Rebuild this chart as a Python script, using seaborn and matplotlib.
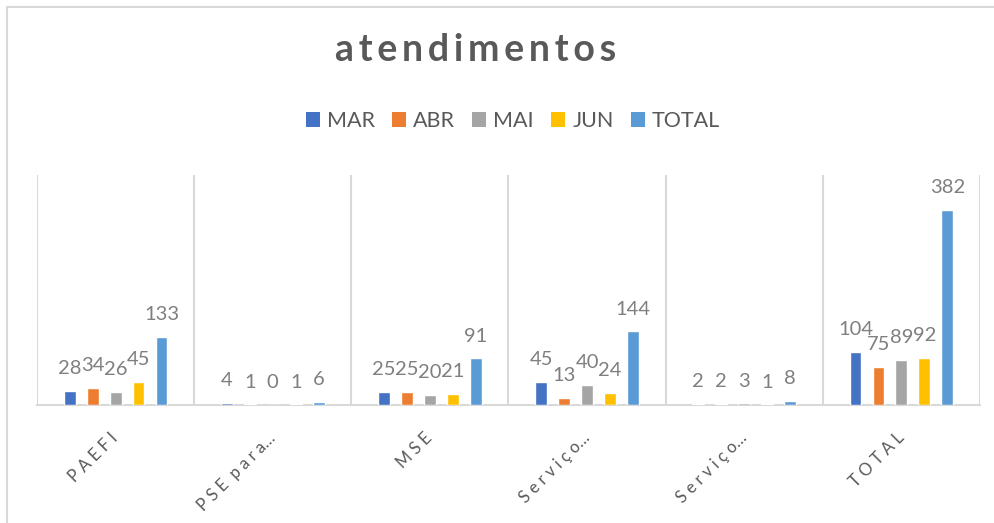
import matplotlib
matplotlib.use("Agg")
import matplotlib.pyplot as plt
import seaborn as sns
import pandas as pd
from matplotlib.patches import Rectangle, Patch

categories = ["PAEFI", "PSE para…", "MSE", "Serviço…", "Serviço… ", "TOTAL"]
tick_labels = ["P A E F I", "P S E  p a r a…", "M S E",
               "S e r v i ç o…", "S e r v i ç o…", "T O T A L"]
series = ["MAR", "ABR", "MAI", "JUN", "TOTAL"]
mar = [28, 4, 25, 45, 2, 104]
abr = [34, 1, 25, 13, 2, 75]
mai = [26, 0, 20, 40, 3, 89]
jun = [45, 1, 21, 24, 1, 92]
total = [133, 6, 91, 144, 8, 382]
colors = ["#4472C4", "#ED7D31", "#A5A5A5", "#FFC000", "#5B9BD5"]
title = "atendimentos"

rows = []
for name, vals in zip(series, [mar, abr, mai, jun, total]):
    for c, v in zip(categories, vals):
        rows.append({"categoria": c, "mes": name, "valor": v})
df = pd.DataFrame(rows)

sns.set_style("white")
plt.rcParams["font.family"] = ["Lato", "DejaVu Sans"]

fig = plt.figure(figsize=(9.95, 5.23), dpi=100)
ax = fig.add_axes([37/995, 1-405/523, (980-37)/995, (405-175)/523])

sns.barplot(data=df, x="categoria", y="valor", hue="mes", order=categories,
            hue_order=series, palette=colors, width=0.73, gap=0.48,
            ax=ax, legend=False, saturation=1)
for p in ax.patches:
    p.set_zorder(3)

ax.set_ylim(0, 450)
ax.set_xlim(-0.5, len(categories) - 0.5)
for s in ["top", "right", "left"]:
    ax.spines[s].set_visible(False)
ax.spines["bottom"].set_color("#D9D9D9")
ax.spines["bottom"].set_linewidth(1.5)
ax.spines["bottom"].set_zorder(1)
ax.set_yticks([])
ax.set_xlabel("")
ax.set_ylabel("")
for b in range(len(categories) + 1):
    ax.axvline(b - 0.5, color="#D9D9D9", lw=1.5, zorder=0)

ax.set_xticks(range(len(categories)))
ax.set_xticklabels(tick_labels, rotation=45, ha="right", va="center",
                   rotation_mode="anchor", fontsize=12, color="#595959")
ax.tick_params(axis="x", length=0, pad=22)

for cont in ax.containers:
    ax.bar_label(cont, fmt="%g", padding=10, fontsize=14.5, color="#7F7F7F")

handles = [Patch(facecolor=c, edgecolor="none") for c in colors]
fig.legend(handles, series, loc="center", bbox_to_anchor=(513/995, 1-121/523),
           ncol=5, frameon=False, fontsize=15.5, labelcolor="#595959",
           handlelength=0.65, handleheight=0.65, handletextpad=0.33,
           columnspacing=0.8)

# title with letter spacing: choose the spacer whose width best fits the reference
renderer = fig.canvas.get_renderer()
target_w = 283
best = None
for sp in ["", "\u200a", "\u2009", "\u2006", "\u2005", "\u2004", " "]:
    s = sp.join(title)
    t = fig.text(476/995, 1-50/523, s, ha="center", va="center", fontsize=27,
                 fontweight="bold", color="#595959", family=["Lato", "DejaVu Sans"])
    w = t.get_window_extent(renderer).width
    t.remove()
    if best is None or abs(w - target_w) < best[0]:
        best = (abs(w - target_w), s)
fig.text(476/995, 1-50/523, best[1], ha="center", va="center", fontsize=27,
         fontweight="bold", color="#595959", family=["Lato", "DejaVu Sans"])

fig.patches.append(Rectangle((7/995, -0.05), 1.1, 1-7/523 + 0.05, transform=fig.transFigure,
                             fill=False, edgecolor="#D9D9D9", lw=1.5))

fig.savefig("out.png", dpi=100, facecolor="white")
